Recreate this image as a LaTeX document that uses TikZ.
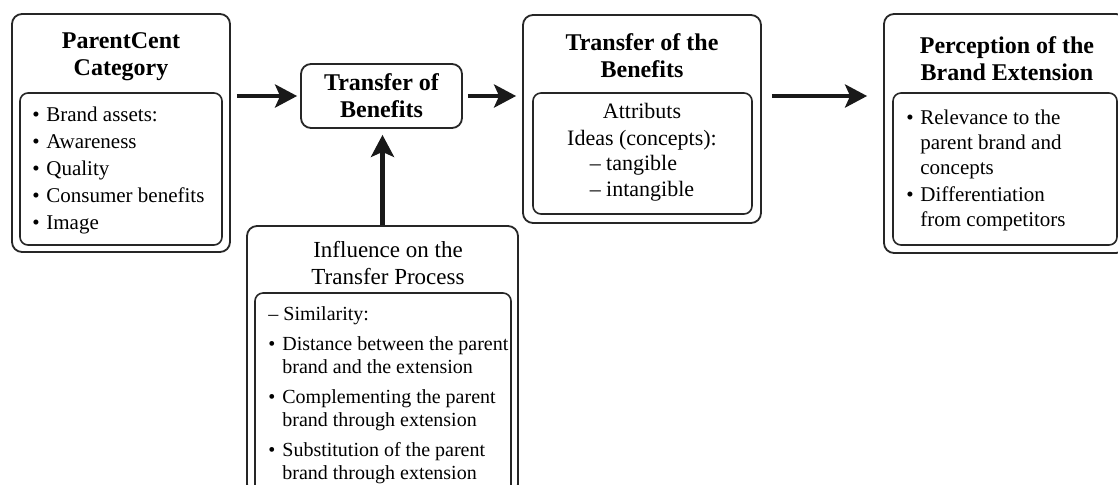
\documentclass[tikz,border=0pt]{standalone}
\usepackage{fontspec}
\setmainfont{Liberation Serif}
\usetikzlibrary{arrows.meta}
\newcommand{\bul}{\makebox[7pt][l]{\textbullet}}
\newcommand{\dsh}{\makebox[7.5pt][l]{–}}
\newcommand{\hang}{\hspace*{7pt}}
\begin{document}
\begin{tikzpicture}
  [x=0.5pt,y=-0.5pt,
   box/.style={draw=black!85,line width=0.9pt,rounded corners=5pt,inner sep=0pt},
   inbox/.style={draw=black!85,line width=0.8pt,rounded corners=4pt,inner sep=0pt},
   head/.style={font=\fontsize{12}{13.5}\selectfont\bfseries,align=center,inner sep=0pt},
   plainhead/.style={font=\fontsize{11.5}{13.5}\selectfont,align=center,inner sep=0pt},
   items/.style={font=\fontsize{10.5}{13.5}\selectfont,align=left,anchor=west,inner sep=0pt},
   arr/.style={line width=2.3pt,black!90,-{Stealth[length=11pt,width=11.5pt,inset=2.5pt]}}]
\useasboundingbox (0,0) rectangle (1118,484);
\clip (0,0) rectangle (1118,484);
\fill[white] (0,0) rectangle (1118,484);

% boxes
\node (pc)[box,minimum width=109pt,minimum height=119pt] at (121,133) {};
\node (pcin)[inbox,minimum width=101pt,minimum height=76pt] at (121,169) {};
\node (tob)[box,minimum width=80.5pt,minimum height=32pt] at (381.5,96) {};
\node (tr)[box,minimum width=119pt,minimum height=104pt] at (642,119) {};
\node (trin)[inbox,minimum width=109.5pt,minimum height=60.5pt] at (642.5,153.5) {};
\node (pe)[box,minimum width=121pt,minimum height=119.5pt] at (1005,133.5) {};
\node (pein)[inbox,minimum width=112pt,minimum height=76pt] at (1005,169) {};
\node (inf)[box,minimum width=135.5pt,minimum height=134pt] at (382.5,360) {};
\node (infin)[inbox,minimum width=128pt,minimum height=100.5pt] at (383,393.5) {};

% texts
\node (pct)[head] at (121,57) {ParentCent\\Category};
\node (pcl)[items] at (32,170) {\bul Brand assets:\\\bul Awareness\\\bul Quality\\\bul Consumer benefits\\\bul Image};
\node (tobt)[head] at (381.5,96) {Transfer of\\Benefits};
\node (trt)[head] at (642,56) {Transfer of the\\Benefits};
\node (trl)[plainhead,font=\fontsize{11}{13.3}\selectfont] at (642,154)
  {Attributs\\Ideas (concepts):\\\begin{tabular}{@{}l@{}}– tangible\\– intangible\end{tabular}};
\node (pet)[head] at (1007,59) {Perception of the\\Brand Extension};
\node (pel)[items,font=\fontsize{10.5}{12.5}\selectfont] at (906,170)
  {\bul Relevance to the\\\hang parent brand and\\\hang concepts\\[1pt]\bul Differentiation\\\hang from competitors};
\node (inft)[plainhead] at (388,263) {Influence on the\\Transfer Process};
\node (infl)[items,font=\fontsize{10}{11.5}\selectfont] at (268,395)
  {\dsh Similarity:\\[3.5pt]
   \bul Distance between the parent\\\hang brand and the extension\\[3.5pt]
   \bul Complementing the parent\\\hang brand through extension\\[3.5pt]
   \bul Substitution of the parent\\\hang brand through extension};

% arrows
\foreach \from/\to/\gs/\ge in {pc/tob/3/1.5,tob/tr/2.5/3,tr/pe/5/8}
  \draw[arr,shorten <=\gs pt,shorten >=\ge pt] (\from.east |- tob) -- (\to.west |- tob);
\draw[arr,shorten >=3pt] (inf.north) -- (inf.north |- tob.south);
\end{tikzpicture}
\end{document}
